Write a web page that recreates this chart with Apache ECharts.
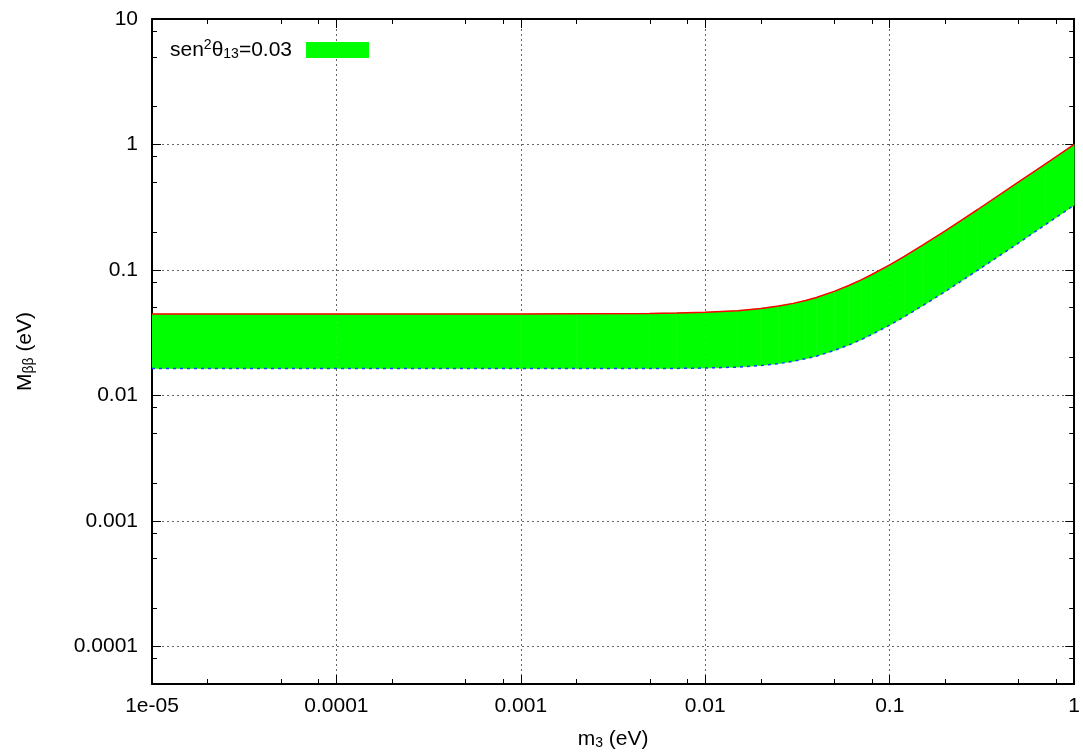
<!DOCTYPE html>
<html>
<head>
<meta charset="utf-8">
<script src="https://cdn.jsdelivr.net/npm/echarts@6/dist/echarts.min.js"></script>
<style>
  html, body { margin: 0; padding: 0; background: #fff; }
  #chart { width: 1083px; height: 755px; }
</style>
</head>
<body>
<div id="chart"></div>
<script>
// ---- data ----
const m3 = [1e-5, 1e-4, 1e-3, 2e-3, 5e-3, 0.007, 0.01, 0.015, 0.02, 0.025, 0.03, 0.035, 0.04, 0.05, 0.06, 0.07, 0.08, 0.1, 0.12, 0.15, 0.2, 0.25, 0.3, 0.5, 0.7, 1];
const upperMbb = [0.0445, 0.0445, 0.0446, 0.0447, 0.0450, 0.0453, 0.0459, 0.0473, 0.0492, 0.0515, 0.0541, 0.0571, 0.0602, 0.0674, 0.0751, 0.0833, 0.0919, 0.1097, 0.1282, 0.1567, 0.205, 0.2541, 0.303, 0.502, 0.7015, 1.0];
const lowerMbb = [0.0164, 0.0164, 0.0164, 0.0164, 0.0164, 0.0164, 0.0165, 0.0168, 0.0173, 0.0179, 0.0187, 0.0196, 0.0205, 0.0228, 0.0252, 0.0278, 0.0306, 0.0363, 0.0423, 0.0516, 0.0673, 0.0833, 0.0994, 0.164, 0.230, 0.328];

const xTickValues = [1e-5, 1e-4, 1e-3, 1e-2, 1e-1, 1];
const xTickLabels = ['1e-05', '0.0001', '0.001', '0.01', '0.1', '1'];
const yTickValues = [1e-4, 1e-3, 1e-2, 1e-1, 1, 10];
const yTickLabels = ['0.0001', '0.001', '0.01', '0.1', '1', '10'];
const minorMultipliers = [2, 5, 8];
const xDecades = [1e-5, 1e-4, 1e-3, 1e-2, 1e-1];
const yDecades = [1e-5, 1e-4, 1e-3, 1e-2, 1e-1, 1];

const legendName = 'band';

// ---- derived ----
const xMin = 1e-5, xMax = 1, yMin = 5e-5, yMax = 10;
const xMinor = [];
xDecades.forEach(d => minorMultipliers.forEach(k => { const v = d * k; if (v > xMin && v < xMax) xMinor.push(v); }));
const yMinor = [];
yDecades.forEach(d => minorMultipliers.forEach(k => { const v = d * k; if (v > yMin && v < yMax) yMinor.push(v); }));

const bandData = m3.map((x, i) => [x, upperMbb[i], lowerMbb[i]]);
const lowerData = m3.map((x, i) => [x, lowerMbb[i]]);
const upperData = m3.map((x, i) => [x, upperMbb[i]]);

function labelFor(values, labels) {
  return function (v) {
    for (let i = 0; i < values.length; i++) {
      if (Math.abs(Math.log10(v) - Math.log10(values[i])) < 0.01) return labels[i];
    }
    return '';
  };
}

const FONT = 'Liberation Sans';
const richText = {
  t: { fontSize: 21, fontFamily: FONT, color: '#000' },
  sup: { fontSize: 14, fontFamily: FONT, color: '#000', padding: [0, 0, 10, 0] },
  sub: { fontSize: 14, fontFamily: FONT, color: '#000', padding: [8, 0, 0, 0] }
};
const axisLineStyle = { color: '#000', width: 2 };

function majorX(position, withLabels) {
  return {
    type: 'log', logBase: 10, min: xMin, max: xMax, position: position, gridIndex: 0,
    axisLine: { show: true, onZero: false, lineStyle: axisLineStyle },
    axisTick: { show: true, inside: true, length: 9, lineStyle: { color: '#000', width: 1 } },
    axisLabel: withLabels ? {
      show: true, margin: 12, fontSize: 21, fontFamily: FONT, color: '#000',
      formatter: labelFor(xTickValues, xTickLabels), showMinLabel: true, showMaxLabel: true
    } : { show: false },
    splitLine: withLabels ? { show: true, lineStyle: { color: '#666', type: [2, 3], width: 1 } } : { show: false },
    minorTick: { show: false }
  };
}
function minorX(position) {
  return {
    type: 'log', logBase: 10, min: xMin, max: xMax, position: position, gridIndex: 0,
    axisLine: { show: false, onZero: false },
    axisTick: { show: true, inside: true, length: 5, customValues: xMinor, lineStyle: { color: '#000', width: 1 } },
    axisLabel: { show: false },
    splitLine: { show: false }
  };
}
function majorY(position, withLabels) {
  return {
    type: 'log', logBase: 10, min: yMin, max: yMax, position: position, gridIndex: 0,
    axisLine: { show: true, onZero: false, lineStyle: axisLineStyle },
    axisTick: { show: true, inside: true, length: 9, lineStyle: { color: '#000', width: 1 } },
    axisLabel: withLabels ? {
      show: true, margin: 14, fontSize: 21, fontFamily: FONT, color: '#000',
      formatter: labelFor(yTickValues, yTickLabels), showMinLabel: true, showMaxLabel: true
    } : { show: false },
    splitLine: withLabels ? { show: true, lineStyle: { color: '#666', type: [2, 3], width: 1 } } : { show: false }
  };
}
function minorY(position) {
  return {
    type: 'log', logBase: 10, min: yMin, max: yMax, position: position, gridIndex: 0,
    axisLine: { show: false, onZero: false },
    axisTick: { show: true, inside: true, length: 5, customValues: yMinor, lineStyle: { color: '#000', width: 1 } },
    axisLabel: { show: false },
    splitLine: { show: false }
  };
}

const xAxes = [majorX('bottom', true), majorX('top', false), minorX('bottom'), minorX('top')];
xAxes[0].name = '{t|m}{sub|3}{t| (eV)}';
xAxes[0].nameLocation = 'middle';
xAxes[0].nameGap = 44;
xAxes[0].nameTextStyle = { rich: richText };

const yAxes = [majorY('left', true), majorY('right', false), minorY('left'), minorY('right')];
yAxes[0].name = '{t|M}{sub|ββ}{t| (eV)}';
yAxes[0].nameLocation = 'middle';
yAxes[0].nameGap = 116;
yAxes[0].nameRotate = 90;
yAxes[0].nameTextStyle = { rich: richText };

function renderBand(params, api) {
  const i = params.dataIndexInside;
  if (i >= params.dataInsideLength - 1) return null;
  const x0 = api.value(0, i), u0 = api.value(1, i), l0 = api.value(2, i);
  const x1 = api.value(0, i + 1), u1 = api.value(1, i + 1), l1 = api.value(2, i + 1);
  const pts = [api.coord([x0, u0]), api.coord([x1, u1]), api.coord([x1, l1]), api.coord([x0, l0])];
  return {
    type: 'polygon',
    shape: { points: pts },
    style: { fill: '#00ff00', stroke: '#00ff00', lineWidth: 0.6 }
  };
}

const chart = echarts.init(document.getElementById('chart'), null, { renderer: 'canvas' });
chart.setOption({
  animation: false,
  backgroundColor: '#fff',
  grid: { left: 152, right: 4, top: 19, bottom: 69, containLabel: false },
  legend: {
    show: true,
    left: 165, top: 33,
    align: 'right',
    icon: 'rect',
    itemWidth: 63, itemHeight: 16,
    selectedMode: false,
    data: [{ name: legendName, icon: 'rect', itemStyle: { color: '#00ff00', borderWidth: 0 } }],
    formatter: function () { return '{t|sen}{sup|2}{t|θ}{sub|13}{t|=0.03}{pad|}'; },
    textStyle: { rich: Object.assign({}, richText, { pad: { width: 9 } }) }
  },
  xAxis: xAxes,
  yAxis: yAxes,
  series: [
    {
      name: legendName, type: 'custom', xAxisIndex: 0, yAxisIndex: 0,
      data: bandData, renderItem: renderBand, clip: true,
      encode: { x: 0, y: [1, 2] },
      itemStyle: { color: '#00ff00' },
      z: 2
    },
    {
      name: 'lower', type: 'line', xAxisIndex: 0, yAxisIndex: 0,
      data: lowerData, showSymbol: false, symbol: 'none',
      lineStyle: { color: '#1a3cff', width: 1.5, type: [3, 4] },
      z: 4
    },
    {
      name: 'upper', type: 'line', xAxisIndex: 0, yAxisIndex: 0,
      data: upperData, showSymbol: false, symbol: 'none',
      lineStyle: { color: '#ff0000', width: 1.5 },
      z: 4
    }
  ]
});
</script>
</body>
</html>
